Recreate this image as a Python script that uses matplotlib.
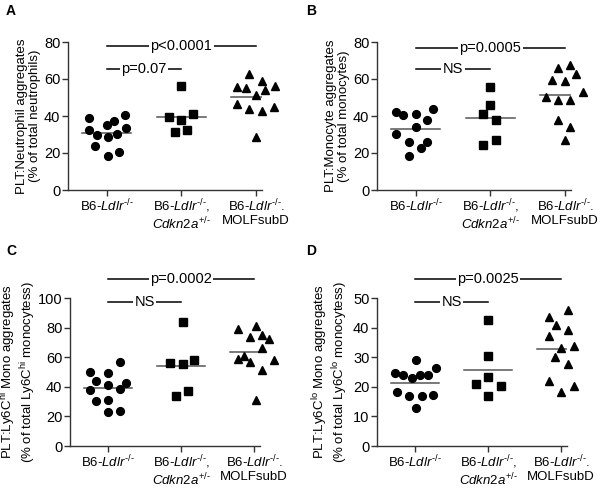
#!/usr/bin/env python3

import matplotlib
matplotlib.use("Agg")
import matplotlib.pyplot as plt
import numpy as np

plt.rcParams["font.family"] = ["Liberation Sans", "DejaVu Sans"]
plt.rcParams["mathtext.fontset"] = "custom"
plt.rcParams["mathtext.rm"] = "Liberation Sans"
plt.rcParams["mathtext.it"] = "Liberation Sans:italic"
plt.rcParams["mathtext.bf"] = "Liberation Sans:bold"

HY = "\u2010"  # short hyphen for the -/- superscripts
groups = [
    r"B6-$\mathit{Ldlr}^{%s/%s}$" % (HY, HY),
    r"B6-$\mathit{Ldlr}^{%s/%s}$," % (HY, HY) + "\n" + r"$\mathit{Cdkn2a}^{+/%s}$" % HY,
    r"B6-$\mathit{Ldlr}^{%s/%s}$." % (HY, HY) + "\nMOLFsubD",
]

# panel A - neutrophil aggregates
a_ctrl = [38.9, 35.3, 37.1, 40.4, 32.3, 29.5, 28.5, 30.3, 33.5, 23.6, 18.6, 20.4]
a_ctrl_dx = [-0.24, 0.0, 0.09, 0.25, -0.24, -0.13, 0.01, 0.135, 0.26, -0.16, 0.01, 0.17]
a_cdkn = [56.0, 39.5, 38.0, 41.1, 31.2, 32.3]
a_cdkn_dx = [0.0, -0.16, 0.0, 0.16, -0.08, 0.08]
a_molf = [62.9, 59.1, 55.5, 55.1, 56.0, 53.9, 51.5, 46.7, 44.0, 42.9, 44.7, 28.5]
a_molf_dx = [-0.09, 0.077, -0.25, -0.13, 0.25, 0.12, 0.0, -0.25, -0.09, 0.077, 0.24, 0.0]

# panel B - monocyte aggregates
b_ctrl = [42.2, 40.4, 41.1, 44.0, 38.0, 34.1, 30.3, 25.8, 25.9, 22.7, 18.2]
b_ctrl_dx = [-0.26, -0.17, 0.0, 0.235, 0.15, 0.0, -0.26, -0.09, 0.15, 0.07, -0.09]
b_cdkn = [55.7, 45.9, 41.3, 37.7, 24.5, 26.8]
b_cdkn_dx = [0.0, -0.01, -0.1, 0.077, -0.1, 0.077]
b_molf = [65.9, 67.4, 62.9, 59.5, 58.7, 50.4, 52.8, 48.5, 48.5, 37.7, 34.1, 26.8]
b_molf_dx = [-0.1, 0.07, 0.15, -0.18, 0.0, -0.25, 0.24, -0.09, 0.07, -0.09, 0.07, 0.0]

# panel C - Ly6C hi
c_ctrl = [56.5, 50.0, 49.3, 44.1, 42.6, 41.2, 37.6, 38.2, 30.1, 31.3, 23.0, 23.4]
c_ctrl_dx = [0.16, -0.25, 0.0, -0.16, 0.25, 0.0, -0.25, 0.16, -0.16, 0.0, 0.0, 0.16]
c_cdkn = [83.8, 56.1, 55.6, 58.3, 34.0, 37.4]
c_cdkn_dx = [0.02, -0.15, 0.02, 0.18, -0.07, 0.1]
c_molf = [79.0, 81.3, 73.4, 75.2, 72.3, 66.2, 58.8, 61.0, 56.5, 57.8, 51.6, 30.8]
c_molf_dx = [-0.22, 0.03, -0.05, 0.105, 0.2, 0.105, -0.22, -0.14, -0.05, 0.27, 0.105, 0.03]

# panel D - Ly6C lo
d_ctrl = [29.2, 24.7, 23.9, 23.0, 23.9, 23.9, 26.4, 18.2, 16.8, 16.8, 17.3, 12.8]
d_ctrl_dx = [0.01, -0.27, -0.16, -0.045, 0.07, 0.18, 0.29, -0.24, -0.08, 0.09, 0.25, 0.01]
d_cdkn = [42.7, 30.3, 23.2, 21.0, 20.4, 17.0]
d_cdkn_dx = [0.0, 0.0, 0.0, -0.16, 0.18, 0.0]
d_molf = [45.8, 43.6, 41.0, 39.1, 37.3, 33.1, 33.9, 30.1, 27.8, 21.8, 20.4, 18.1]
d_molf_dx = [0.09, -0.16, -0.07, 0.09, -0.16, 0.0, 0.17, -0.08, 0.09, -0.16, 0.17, 0.0]

panels = [
    dict(letter="A", data=[a_ctrl, a_cdkn, a_molf], dx=[a_ctrl_dx, a_cdkn_dx, a_molf_dx],
         ylabel="PLT:Neutrophil aggregates\n(% of total neutrophils)",
         ymax=80, ystep=20, sig=[(78.0, 2, "p<0.0001"), (65.4, 1, "p=0.07")]),
    dict(letter="B", data=[b_ctrl, b_cdkn, b_molf], dx=[b_ctrl_dx, b_cdkn_dx, b_molf_dx],
         ylabel="PLT:Monocyte aggregates\n(% of total monocytes)",
         ymax=80, ystep=20, sig=[(76.8, 2, "p=0.0005"), (65.2, 1, "NS")]),
    dict(letter="C", data=[c_ctrl, c_cdkn, c_molf], dx=[c_ctrl_dx, c_cdkn_dx, c_molf_dx],
         ylabel="PLT:Ly6C$^{\\mathrm{hi}}$ Mono aggregates\n"
                "(% of total Ly6C$^{\\mathrm{hi}}$ monocytess)",
         ymax=100, ystep=20, sig=[(112.8, 2, "p=0.0002"), (97.3, 1, "NS")]),
    dict(letter="D", data=[d_ctrl, d_cdkn, d_molf], dx=[d_ctrl_dx, d_cdkn_dx, d_molf_dx],
         ylabel="PLT:Ly6C$^{\\mathrm{lo}}$ Mono aggregates\n"
                "(% of total Ly6C$^{\\mathrm{lo}}$ monocytess)",
         ymax=50, ystep=10, sig=[(56.4, 2, "p=0.0025"), (48.6, 1, "NS")]),
]

markers = ["o", "s", "^"]
msizes = [5.6, 5.3, 5.9]

W, H = 601, 488
fig = plt.figure(figsize=(W / 100, H / 100), dpi=100)

# axes boxes in pixels: left, top, width, height
boxes = [(68, 42, 194, 148), (377, 42, 194, 148), (70, 298, 190, 148), (377, 298, 190, 148)]
label_x = [-27, -27, -32, -27]
label_ls = [1.1, 1.1, 1.0, 1.0]
letter_pos = [(6, 11), (306, 11), (6, 251), (306, 251)]

for p, (l, t, w, h), lab_x, lab_ls, (lx, ly) in zip(panels, boxes, label_x, label_ls, letter_pos):
    ax = fig.add_axes([l / W, 1 - (t + h) / H, w / W, h / H])
    for i, (vals, dx) in enumerate(zip(p["data"], p["dx"])):
        xs = i + np.array(dx)
        ax.plot(xs, vals, linestyle="none", marker=markers[i], markersize=msizes[i],
                color="black", clip_on=False, zorder=3)
        m = np.mean(vals)
        ax.plot([i - 0.33, i + 0.33], [m, m], color="#555555", lw=1.1, zorder=2)

    for y, x2, txt in p["sig"]:
        ax.plot([0, x2], [y, y], color="black", lw=1.1, clip_on=False)
        ax.text(x2 / 2, y, txt, ha="center", va="center", fontsize=10.5,
                bbox=dict(facecolor="white", edgecolor="none", pad=1.0),
                clip_on=False)

    ax.set_xlim(-0.52, 2.08)
    ax.set_ylim(0, p["ymax"])
    ax.set_yticks(np.arange(0, p["ymax"] + 1, p["ystep"]))
    ax.set_xticks([0, 1, 2])
    ax.set_xticklabels(groups, fontsize=9.5, linespacing=1.05)
    ax.tick_params(axis="y", labelsize=10.5, length=4, width=1, color="#333333", pad=1.5)
    ax.tick_params(axis="x", length=4, width=1, color="#333333", pad=1.5)
    for s in ["top", "right"]:
        ax.spines[s].set_visible(False)
    for s in ["left", "bottom"]:
        ax.spines[s].set_color("#333333")
        ax.spines[s].set_linewidth(1)
    ax.set_ylabel(p["ylabel"], fontsize=9.5, linespacing=lab_ls)
    ax.yaxis.set_label_coords(lab_x / w, 0.5)

    fig.text(lx / W, 1 - ly / H, p["letter"], fontsize=10, fontweight="bold",
             ha="left", va="center")

fig.savefig("out.png", dpi=100)
